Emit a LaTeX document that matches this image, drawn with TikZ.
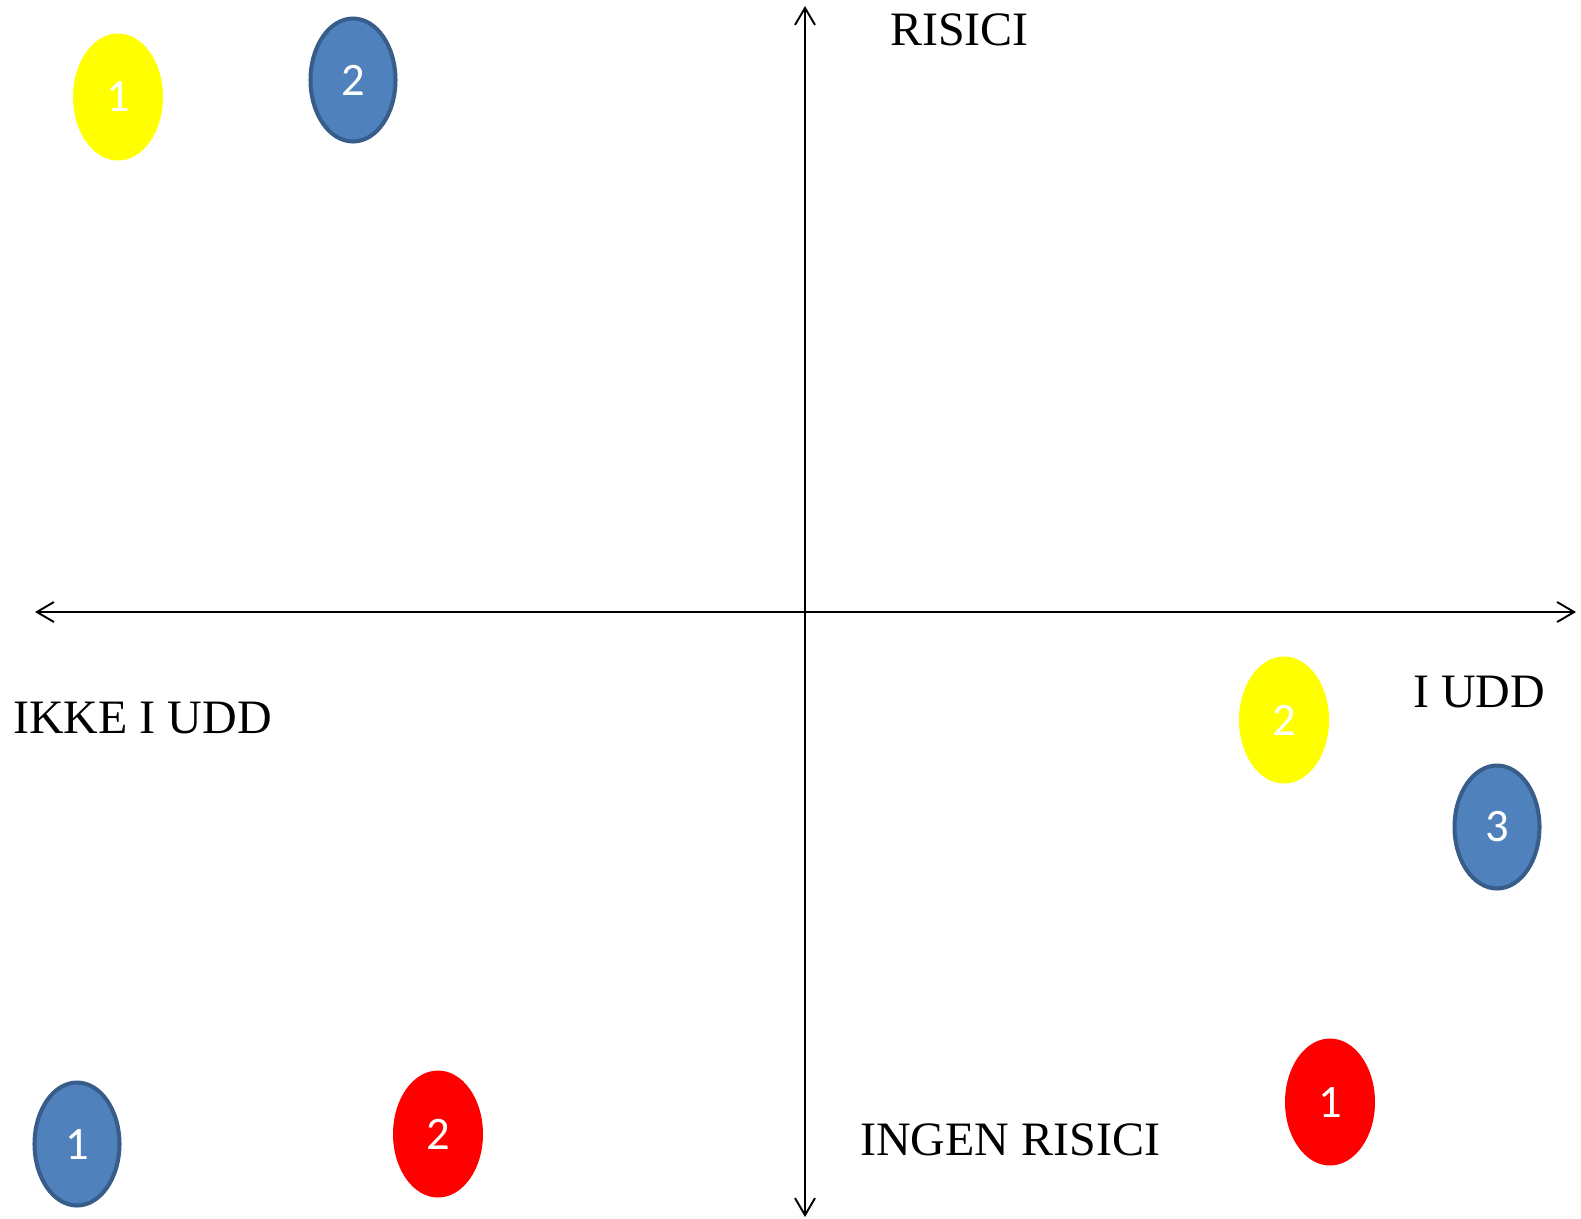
\documentclass[tikz,border=0pt]{standalone}
\usepackage{fontspec}
\setmainfont{Liberation Serif}
\newfontfamily\numfont{Carlito}
\usetikzlibrary{arrows.meta,shapes.geometric}
\definecolor{dotblue}{HTML}{4F81BD}
\definecolor{dotedge}{HTML}{385D8A}
\definecolor{dotyellow}{HTML}{FFFF00}
\definecolor{dotred}{HTML}{FF0000}
\tikzset{
  axis/.style={line width=1.1pt, {Straight Barb[length=0.34cm,width=0.4cm]}-{Straight Barb[length=0.34cm,width=0.4cm]}},
  dot/.style={ellipse, inner sep=0pt, minimum width=1.8cm, minimum height=2.54cm,
    text=white, font=\numfont\fontsize{26.5pt}{30pt}\selectfont},
  bluedot/.style={dot, fill=dotblue, draw=dotedge, line width=2.3pt,
    minimum width=1.7cm, minimum height=2.46cm},
  label/.style={anchor=base west, inner sep=0pt, font=\fontsize{27.3pt}{32pt}\selectfont}
}
\begin{document}
\begin{tikzpicture}[x=0.02cm, y=-0.02cm]
  \useasboundingbox (0,0) rectangle (1581,1218);
  % axes
  \coordinate (top) at (805,6);
  \coordinate (bottom) at (805,1217);
  \coordinate (left) at (35,612);
  \coordinate (right) at (1576,612);
  \draw[axis] (left) -- (right);
  \draw[axis] (bottom) -- (top);
  % axis labels
  \node[label] (risici) at (890,45.7) {RISICI};
  \node[label] (ingen) at (860,1155.7) {INGEN RISICI};
  \node[label] (ikke) at (13,733) {IKKE I UDD};
  \node[label] (iudd) at (1413,707) {I UDD};
  % dots
  \foreach \name/\x/\y/\col/\num in {y1/118/97/dotyellow/1, y2/1284/720/dotyellow/2,
      r1/1330/1102/dotred/1, r2/438/1134/dotred/2} {
    \node[dot, fill=\col] (\name) at (\x,\y) {\num};
  }
  \foreach \name/\x/\y/\num in {b1/77/1144/1, b2/353/80/2, b3/1497/827/3} {
    \node[bluedot] (\name) at (\x,\y) {\num};
  }
\end{tikzpicture}
\end{document}
